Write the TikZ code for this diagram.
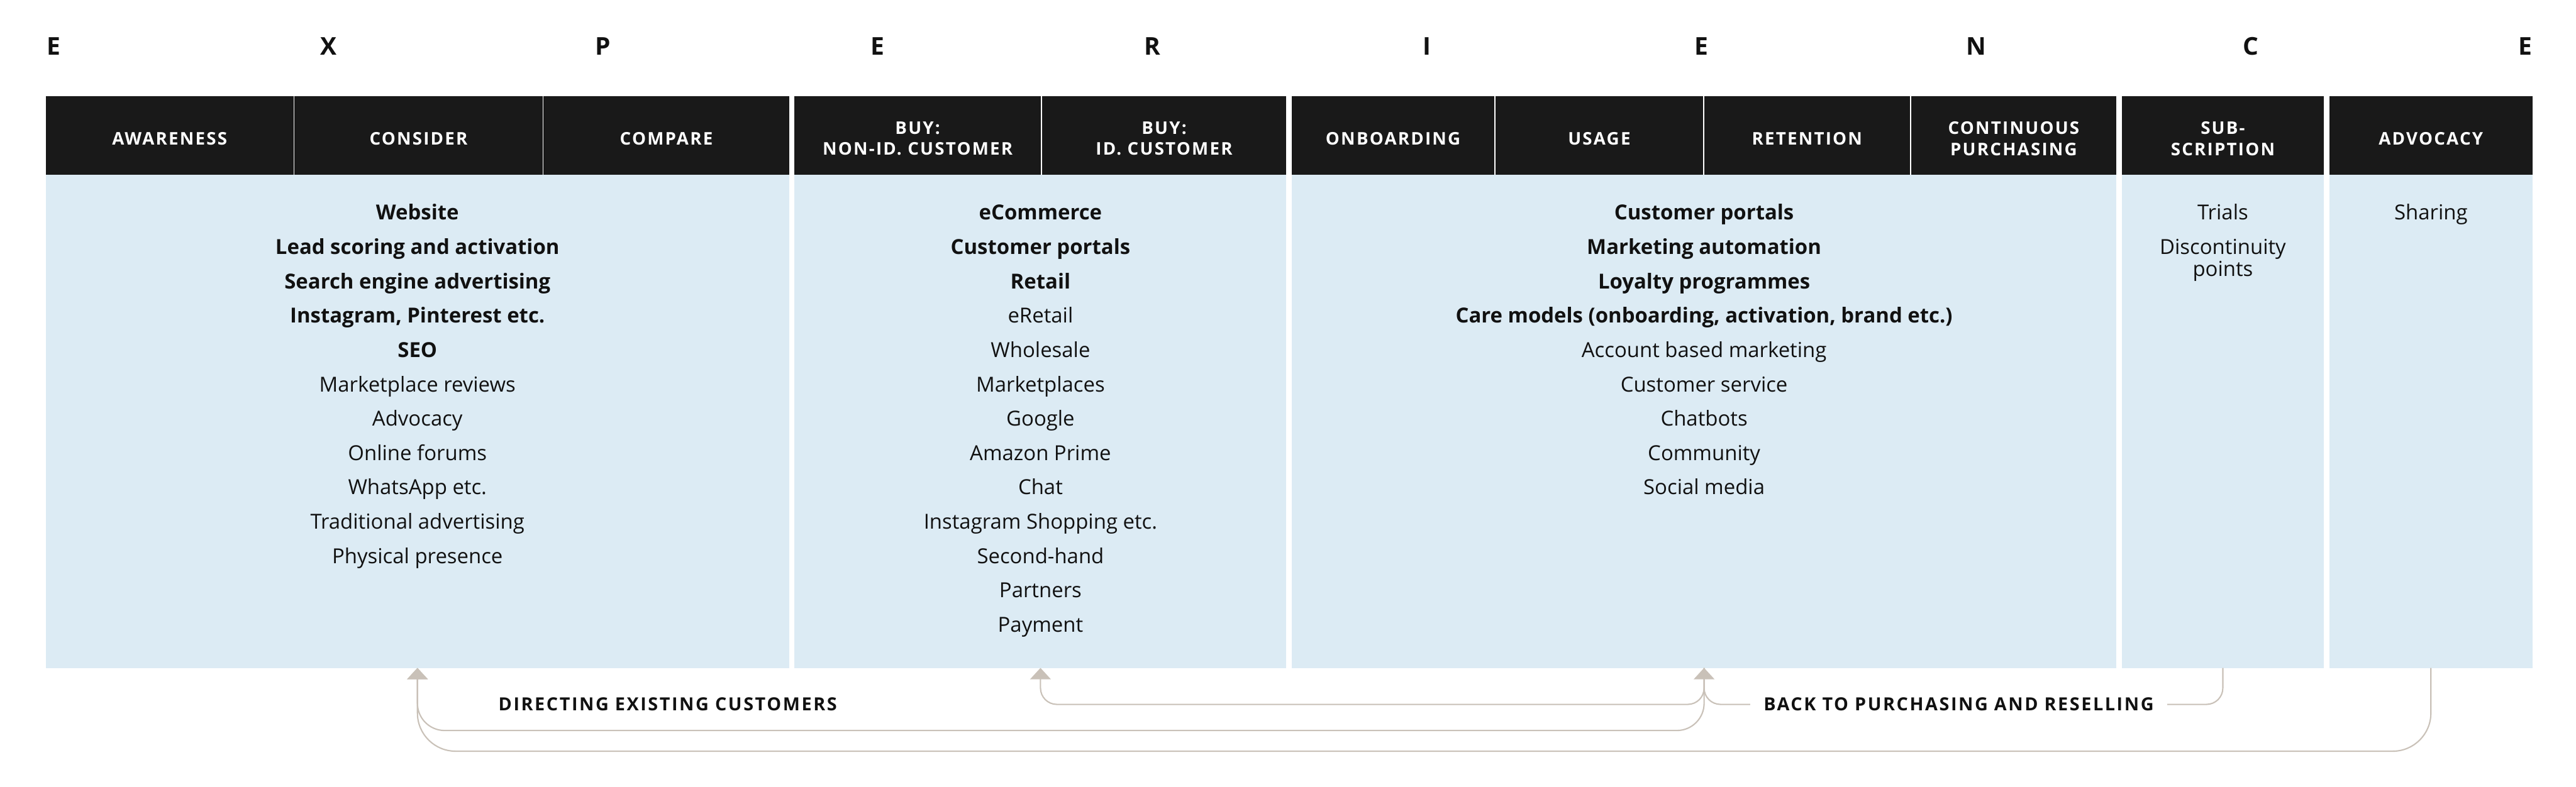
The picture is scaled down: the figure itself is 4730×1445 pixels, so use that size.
\documentclass[tikz,border=0pt]{standalone}
\usepackage{fontspec}
\setmainfont{Open Sans}
\newfontfamily\trackfont{Open Sans}[LetterSpace=8]
\newfontfamily\lbltrackfont{Open Sans}[LetterSpace=9]
\usetikzlibrary{arrows.meta,calc}
\definecolor{hdrblack}{RGB}{25,25,25}
\definecolor{bodyblue}{RGB}{220,235,244}
\definecolor{connc}{RGB}{201,193,184}
\definecolor{txt}{RGB}{17,17,17}
\newcommand\mkbox[6]{%
  \pgfmathsetmacro\mbW{(#3-#2)*0.5}%
  \pgfmathsetmacro\mbH{(#5-#4)*0.5}%
  \pgfmathsetmacro\mbX{(#2+#3)/2}%
  \pgfmathsetmacro\mbY{(#4+#5)/2}%
  \node[#6, minimum width=\mbW pt, minimum height=\mbH pt] (#1) at (\mbX,\mbY) {};}
\begin{document}
\begin{tikzpicture}[x=0.5pt,y=-0.5pt,
  cellbox/.style={rectangle, fill=hdrblack, draw=none, inner sep=0, outer sep=0},
  bodybox/.style={rectangle, fill=bodyblue, draw=none, inner sep=0, outer sep=0},
  htext/.style={text=white, font=\trackfont\bfseries\fontsize{16}{19.5}\selectfont, align=center, inner sep=0},
  btext/.style={text=txt, font=\fontsize{19}{31.55}\selectfont, align=center, inner sep=0, anchor=base},
  bigletter/.style={font=\bfseries\fontsize{22.5}{27}\selectfont, inner sep=0, text=txt},
  lbl/.style={font=\lbltrackfont\bfseries\fontsize{16.6}{19.5}\selectfont, text=txt, inner sep=0},
  conn/.style={draw=connc, line width=1.2pt, -{Triangle[width=19pt,length=10.5pt]}}
]
\useasboundingbox[fill=white] (0,0) rectangle (4730,1445);

% top letters
\foreach \L [count=\i from 0] in {E,X,P,E,R,I,E,N,C,E}
  \node[bigletter] (top\i) at ({99+\i*504.2},85) {\L};

% body groups
\mkbox{g1}{84}{1449}{321}{1227}{bodybox}
\mkbox{g2}{1459}{2362}{321}{1227}{bodybox}
\mkbox{g3}{2372}{3886}{321}{1227}{bodybox}
\mkbox{g4}{3896}{4267}{321}{1227}{bodybox}
\mkbox{g5}{4277}{4650}{321}{1227}{bodybox}

% header cells
\mkbox{h1}{84}{539}{177}{321}{cellbox}
\mkbox{h2}{541}{996}{177}{321}{cellbox}
\mkbox{h3}{998}{1449}{177}{321}{cellbox}
\mkbox{h4}{1459}{1911}{177}{321}{cellbox}
\mkbox{h5}{1913}{2362}{177}{321}{cellbox}
\mkbox{h6}{2372}{2744}{177}{321}{cellbox}
\mkbox{h7}{2746}{3127}{177}{321}{cellbox}
\mkbox{h8}{3129}{3507}{177}{321}{cellbox}
\mkbox{h9}{3509}{3886}{177}{321}{cellbox}
\mkbox{h10}{3896}{4267}{177}{321}{cellbox}
\mkbox{h11}{4277}{4650}{177}{321}{cellbox}

% header texts
\node[htext] (t1) at (311.5,254.5) {AWARENESS};
\node[htext] (t2) at (768.5,254.5) {CONSIDER};
\node[htext] (t3) at (1223.5,254.5) {COMPARE};
\node[htext] (t4) at (1685,254.5) {BUY:\\NON-ID. CUSTOMER};
\node[htext] (t5) at (2137.5,254.5) {BUY:\\ID. CUSTOMER};
\node[htext] (t6) at (2558,254.5) {ONBOARDING};
\node[htext] (t7) at (2936.5,254.5) {USAGE};
\node[htext] (t8) at (3318,254.5) {RETENTION};
\node[htext] (t9) at (3697.5,254.5) {CONTINUOUS\\PURCHASING};
\node[htext] (t10) at (4081.5,254.5) {SUB-\\SCRIPTION};
\node[htext] (t11) at (4463.5,254.5) {ADVOCACY};

% body texts (anchor = baseline of the last line)
\node[btext] (b1) at (766.5,1035) {\textbf{Website}\\\textbf{Lead scoring and activation}\\\textbf{Search engine advertising}\\\textbf{Instagram, Pinterest etc.}\\\textbf{SEO}\\Marketplace reviews\\Advocacy\\Online forums\\WhatsApp etc.\\Traditional advertising\\Physical presence};
\node[btext] (b2) at (1910.5,1161.2) {\textbf{eCommerce}\\\textbf{Customer portals}\\\textbf{Retail}\\eRetail\\Wholesale\\Marketplaces\\Google\\Amazon Prime\\Chat\\Instagram Shopping etc.\\Second-hand\\Partners\\Payment};
\node[btext] (b3) at (3129,908.8) {\textbf{Customer portals}\\\textbf{Marketing automation}\\\textbf{Loyalty programmes}\\\textbf{Care models (onboarding, activation, brand etc.)}\\Account based marketing\\Customer service\\Chatbots\\Community\\Social media};
\node[btext, font=\fontsize{19}{20}\selectfont] (b4) at (4081.5,507.1) {Trials\\[11.55pt]Discontinuity\\points};
\node[btext] (b5) at (4463.5,404) {Sharing};

% connectors
\draw[conn, rounded corners=35pt] (g5.south) |- ($(g1.south)+(0,153)$) -- (g1.south);
\draw[conn, rounded corners=25pt] (g3.south) |- ($(g1.south)+(0,115)$) -- (g1.south);
\draw[conn, rounded corners=15pt] (g3.south) |- ($(g2.south)+(0,67)$) -- (g2.south);
\draw[conn, rounded corners=15pt] (g4.south) |- ($(g3.south)+(0,67)$) -- (g3.south);

% labels
\node[lbl] (dir) at (1226,1294) {DIRECTING EXISTING CUSTOMERS};
\node[lbl, fill=white, inner xsep=12.5pt, inner ysep=3pt] (back) at (3596.5,1294) {BACK TO PURCHASING AND RESELLING};
\end{tikzpicture}
\end{document}
